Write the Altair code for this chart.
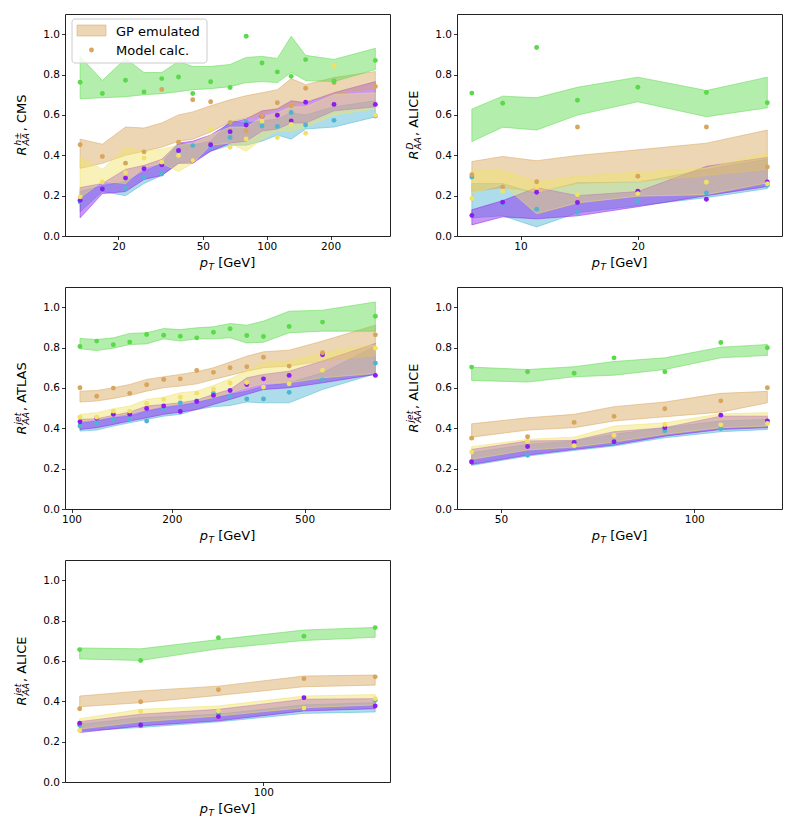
import altair as alt
import pandas as pd

MODELS = ["green", "tan", "yellow", "purple", "cyan"]
COLORS = ["#5ad94a", "#d7a55c", "#f0e266", "#8b1df0", "#4db5d3"]
DRAW_ORDER = ["cyan", "purple", "tan", "yellow", "green"]

# ---------------- CMS charged hadrons ----------------
cms_pt = [13.2, 16.8, 21.6, 26.4, 32.0, 38.4, 44.8, 54.4, 67.2, 80.0, 95.0, 112.2, 130.4, 152.5, 207.5, 325.0]
cms_val = {
    "green":  [0.762, 0.706, 0.772, 0.714, 0.780, 0.788, 0.706, 0.764, 0.736, 0.990, 0.857, 0.813, 0.791, 0.874, 0.768, 0.870],
    "tan":    [0.452, 0.394, 0.361, 0.417, 0.726, 0.465, 0.675, 0.665, 0.562, 0.521, 0.595, 0.660, 0.645, 0.732, 0.760, 0.741],
    "yellow": [0.194, 0.268, 0.314, 0.386, 0.366, 0.399, 0.374, 0.530, 0.440, 0.481, 0.570, 0.488, 0.553, 0.509, 0.841, 0.598],
    "purple": [0.177, 0.233, 0.287, 0.333, 0.353, 0.424, 0.373, 0.452, 0.517, 0.550, 0.593, 0.598, 0.570, 0.663, 0.652, 0.652],
    "cyan":   [0.169, 0.233, 0.236, 0.291, 0.307, 0.420, 0.448, 0.443, 0.488, 0.565, 0.545, 0.543, 0.612, 0.550, 0.573, 0.594],
}
cms_hi = {
    "green":  [0.89, 0.77, 0.88, 0.81, 0.81, 0.865, 0.84, 0.84, 0.85, 0.885, 0.89, 0.88, 0.99, 0.895, 0.875, 0.93],
    "tan":    [0.48, 0.455, 0.54, 0.535, 0.56, 0.60, 0.615, 0.645, 0.675, 0.695, 0.71, 0.725, 0.78, 0.75, 0.785, 0.815],
    "yellow": [0.39, 0.33, 0.44, 0.42, 0.43, 0.45, 0.46, 0.50, 0.54, 0.54, 0.59, 0.61, 0.64, 0.64, 0.70, 0.71],
    "purple": [0.24, 0.26, 0.33, 0.35, 0.38, 0.46, 0.47, 0.50, 0.56, 0.58, 0.62, 0.63, 0.67, 0.66, 0.71, 0.765],
    "cyan":   [0.22, 0.25, 0.27, 0.32, 0.36, 0.46, 0.45, 0.47, 0.57, 0.56, 0.57, 0.58, 0.61, 0.60, 0.64, 0.67],
}
cms_lo = {
    "green":  [0.68, 0.685, 0.69, 0.70, 0.705, 0.715, 0.725, 0.73, 0.74, 0.76, 0.765, 0.76, 0.81, 0.77, 0.765, 0.825],
    "tan":    [0.335, 0.36, 0.40, 0.42, 0.44, 0.47, 0.48, 0.515, 0.565, 0.585, 0.60, 0.63, 0.645, 0.665, 0.705, 0.73],
    "yellow": [0.19, 0.27, 0.26, 0.34, 0.36, 0.32, 0.36, 0.45, 0.46, 0.42, 0.48, 0.52, 0.52, 0.54, 0.60, 0.63],
    "purple": [0.09, 0.21, 0.22, 0.28, 0.30, 0.36, 0.36, 0.42, 0.46, 0.47, 0.52, 0.53, 0.56, 0.56, 0.62, 0.64],
    "cyan":   [0.12, 0.22, 0.20, 0.26, 0.30, 0.36, 0.37, 0.42, 0.45, 0.45, 0.47, 0.50, 0.48, 0.53, 0.54, 0.59],
}

# ---------------- ALICE D mesons ----------------
alid_pt = [7.5, 9.0, 11.0, 14.0, 20.0, 30.0, 43.0]
alid_val = {
    "green":  [0.708, 0.658, 0.934, 0.673, 0.737, 0.711, 0.660],
    "tan":    [0.304, 0.243, 0.269, 0.540, 0.296, 0.540, 0.342],
    "yellow": [0.186, 0.222, 0.243, 0.205, 0.210, 0.266, 0.259],
    "purple": [0.102, 0.167, 0.217, 0.166, 0.222, 0.182, 0.268],
    "cyan":   [0.292, 0.158, 0.133, 0.117, 0.174, 0.213, 0.251],
}
alid_hi = {
    "green":  [0.629, 0.693, 0.685, 0.737, 0.787, 0.721, 0.787],
    "tan":    [0.369, 0.394, 0.373, 0.399, 0.427, 0.460, 0.525],
    "yellow": [0.323, 0.325, 0.271, 0.296, 0.317, 0.337, 0.410],
    "purple": [0.130, 0.175, 0.240, 0.200, 0.220, 0.345, 0.390],
    "cyan":   [0.260, 0.260, 0.210, 0.265, 0.265, 0.330, 0.380],
}
alid_lo = {
    "green":  [0.468, 0.539, 0.525, 0.599, 0.665, 0.591, 0.635],
    "tan":    [0.220, 0.240, 0.220, 0.260, 0.270, 0.300, 0.330],
    "yellow": [0.213, 0.255, 0.110, 0.164, 0.197, 0.205, 0.263],
    "purple": [0.055, 0.095, 0.085, 0.100, 0.145, 0.200, 0.245],
    "cyan":   [0.090, 0.100, 0.045, 0.115, 0.150, 0.190, 0.235],
}

# ---------------- ATLAS jets ----------------
atl_pt = [106, 119, 133.5, 149.5, 168, 189, 212, 237.5, 266.5, 299, 335.5, 376.5, 449.5, 566, 815.5]
atl_val = {
    "green":  [0.805, 0.832, 0.814, 0.827, 0.865, 0.861, 0.856, 0.848, 0.876, 0.893, 0.860, 0.855, 0.904, 0.926, 0.955],
    "tan":    [0.601, 0.559, 0.599, 0.573, 0.616, 0.642, 0.645, 0.686, 0.677, 0.700, 0.705, 0.752, 0.708, 0.774, 0.863],
    "yellow": [0.455, 0.455, 0.485, 0.485, 0.523, 0.543, 0.554, 0.574, 0.594, 0.624, 0.627, 0.604, 0.620, 0.688, 0.797],
    "purple": [0.432, 0.450, 0.469, 0.470, 0.498, 0.510, 0.483, 0.533, 0.563, 0.587, 0.617, 0.645, 0.662, 0.764, 0.662],
    "cyan":   [0.411, 0.426, 0.441, 0.444, 0.436, 0.498, 0.526, 0.536, 0.573, 0.558, 0.545, 0.545, 0.578, 0.640, 0.723],
}
atl_hi = {
    "green":  [0.845, 0.840, 0.848, 0.870, 0.873, 0.894, 0.889, 0.898, 0.903, 0.919, 0.911, 0.931, 0.980, 0.985, 1.026],
    "tan":    [0.584, 0.587, 0.601, 0.617, 0.642, 0.655, 0.667, 0.680, 0.700, 0.728, 0.757, 0.779, 0.787, 0.832, 0.911],
    "yellow": [0.469, 0.477, 0.497, 0.510, 0.543, 0.554, 0.576, 0.584, 0.612, 0.645, 0.683, 0.724, 0.733, 0.774, 0.815],
    "purple": [0.444, 0.447, 0.464, 0.480, 0.510, 0.518, 0.526, 0.540, 0.568, 0.592, 0.650, 0.667, 0.683, 0.733, 0.820],
    "cyan":   [0.424, 0.436, 0.452, 0.460, 0.485, 0.502, 0.513, 0.526, 0.551, 0.568, 0.584, 0.609, 0.625, 0.675, 0.807],
}
atl_lo = {
    "green":  [0.794, 0.785, 0.797, 0.815, 0.818, 0.843, 0.832, 0.843, 0.843, 0.848, 0.823, 0.826, 0.873, 0.881, 0.881],
    "tan":    [0.530, 0.535, 0.548, 0.563, 0.584, 0.601, 0.609, 0.620, 0.642, 0.662, 0.683, 0.700, 0.708, 0.733, 0.760],
    "yellow": [0.436, 0.444, 0.460, 0.472, 0.493, 0.510, 0.522, 0.535, 0.551, 0.576, 0.601, 0.622, 0.625, 0.650, 0.672],
    "purple": [0.394, 0.403, 0.419, 0.436, 0.452, 0.469, 0.480, 0.493, 0.518, 0.543, 0.568, 0.592, 0.601, 0.625, 0.667],
    "cyan":   [0.386, 0.391, 0.411, 0.427, 0.444, 0.460, 0.469, 0.493, 0.507, 0.513, 0.530, 0.526, 0.526, 0.592, 0.670],
}

# ---------------- ALICE jets (first) ----------------
alj1_pt = [45, 55, 65, 75, 90, 110, 130]
alj1_val = {
    "green":  [0.703, 0.680, 0.673, 0.749, 0.680, 0.825, 0.799],
    "tan":    [0.351, 0.358, 0.429, 0.459, 0.497, 0.536, 0.601],
    "yellow": [0.282, 0.335, 0.314, 0.365, 0.419, 0.417, 0.424],
    "purple": [0.233, 0.310, 0.330, 0.333, 0.403, 0.465, 0.436],
    "cyan":   [0.235, 0.266, 0.328, 0.327, 0.388, 0.398, 0.434],
}
alj1_hi = {
    "green":  [0.703, 0.691, 0.705, 0.731, 0.749, 0.802, 0.815],
    "tan":    [0.422, 0.452, 0.469, 0.507, 0.530, 0.573, 0.583],
    "yellow": [0.309, 0.345, 0.356, 0.411, 0.427, 0.472, 0.477],
    "purple": [0.295, 0.337, 0.340, 0.383, 0.403, 0.460, 0.460],
    "cyan":   [0.279, 0.320, 0.337, 0.370, 0.403, 0.436, 0.444],
}
alj1_lo = {
    "green":  [0.637, 0.629, 0.655, 0.663, 0.691, 0.749, 0.761],
    "tan":    [0.356, 0.391, 0.403, 0.436, 0.457, 0.480, 0.526],
    "yellow": [0.246, 0.292, 0.307, 0.332, 0.370, 0.403, 0.411],
    "purple": [0.221, 0.267, 0.295, 0.317, 0.361, 0.394, 0.403],
    "cyan":   [0.216, 0.262, 0.290, 0.312, 0.353, 0.383, 0.394],
}

# ---------------- ALICE jets (second) ----------------
alj2_pt = [65, 75, 90, 110, 130]
alj2_val = {
    "green":  [0.656, 0.602, 0.715, 0.722, 0.765],
    "tan":    [0.363, 0.398, 0.457, 0.512, 0.521],
    "yellow": [0.255, 0.349, 0.352, 0.367, 0.413],
    "purple": [0.291, 0.283, 0.324, 0.418, 0.377],
    "cyan":   [0.281, 0.278, 0.340, 0.370, 0.405],
}
alj2_hi = {
    "green":  [0.664, 0.660, 0.706, 0.753, 0.766],
    "tan":    [0.426, 0.451, 0.475, 0.525, 0.530],
    "yellow": [0.314, 0.360, 0.377, 0.426, 0.433],
    "purple": [0.299, 0.336, 0.360, 0.410, 0.413],
    "cyan":   [0.286, 0.319, 0.336, 0.382, 0.393],
}
alj2_lo = {
    "green":  [0.610, 0.602, 0.660, 0.701, 0.717],
    "tan":    [0.373, 0.393, 0.429, 0.472, 0.480],
    "yellow": [0.262, 0.298, 0.327, 0.368, 0.382],
    "purple": [0.245, 0.278, 0.303, 0.352, 0.363],
    "cyan":   [0.253, 0.270, 0.298, 0.340, 0.347],
}

# ---------------- layout / style ----------------
W, H = 325, 222
FONT = "DejaVu Sans"
F_TITLE, F_SUB, F_TICK = 13, 9, 10.5
EM = {"R": .695, "A": .684, "h": .634, "±": .838, "D": .770, "j": .278, "e": .615, "t": .392,
      ",": .318, " ": .318, "C": .698, "M": .863, "S": .635, "L": .557, "I": .295,
      "E": .632, "T": .611, "p": .635, "[": .390, "G": .775, "V": .684, "]": .390}
CMAP = dict(zip(MODELS, COLORS))


def tw(s, size):
    return sum(EM.get(ch, 0.6) for ch in s) * size


ONE = pd.DataFrame({"k": [0]})


def txt(s, x, y, size, italic=False, angle=0, color="black"):
    kw = dict(text=s, fontSize=size, font=FONT, align="left", baseline="alphabetic", color=color,
              fontStyle="italic" if italic else "normal")
    if angle:
        kw["angle"] = angle
    return alt.Chart(ONE).mark_text(**kw).encode(x=alt.value(x), y=alt.value(y))


def build_df(pt, val, lo, hi):
    rows = []
    for m in DRAW_ORDER:
        for i, p in enumerate(pt):
            rows.append(dict(pt=p, model=m, val=val[m][i], lo=lo[m][i], hi=hi[m][i]))
    return pd.DataFrame(rows)


def panel(pt, val, lo, hi, dom, ticks, sup, rest, legend=False):
    df = build_df(pt, val, lo, hi)
    xaxis = alt.Axis(values=ticks, format="d", title=None, grid=False, domain=False,
                     tickSize=3.5, tickColor="black", tickWidth=0.8, labelFontSize=F_TICK,
                     labelColor="black", labelFont=FONT, labelPadding=2, labelFlush=False)
    yaxis = alt.Axis(values=[0, 0.2, 0.4, 0.6, 0.8, 1.0], format=".1f", title=None, grid=False,
                     domain=False, tickSize=3.5, tickColor="black", tickWidth=0.8,
                     labelFontSize=F_TICK, labelColor="black", labelFont=FONT, labelPadding=2)
    xs = alt.Scale(type="log", domain=dom, nice=False)
    ys = alt.Scale(domain=[0, 1.1], nice=False)
    X = alt.X("pt:Q", scale=xs, axis=xaxis)
    layers = []
    for m in DRAW_ORDER:
        c = CMAP[m]
        layers.append(
            alt.Chart(df[df.model == m]).mark_area(
                color=c, fillOpacity=0.46, stroke=c, strokeOpacity=0.5, strokeWidth=1
            ).encode(x=X, y=alt.Y("lo:Q", scale=ys, axis=yaxis), y2="hi:Q")
        )
    layers.append(
        alt.Chart(df).mark_circle(size=24, opacity=1).encode(
            x=X, y=alt.Y("val:Q", scale=ys, axis=yaxis),
            color=alt.Color("model:N", scale=alt.Scale(domain=MODELS, range=COLORS), legend=None))
    )
    # y title: R_{AA}^{sup}, rest  (rotated)
    xb = -39
    wR = tw("R", F_TITLE)
    wmid = max(tw("AA", F_SUB), tw(sup, F_SUB))
    wrest = tw(rest, F_TITLE)
    L = wR + 1 + wmid + 1 + wrest
    y0 = H / 2 + L / 2
    layers.append(txt("R", xb, y0, F_TITLE, italic=True, angle=270))
    layers.append(txt("AA", xb + 3, y0 - wR - 1, F_SUB, italic=True, angle=270))
    layers.append(txt(sup, xb - 5.5, y0 - wR - 1, F_SUB, italic=True, angle=270))
    layers.append(txt(rest, xb, y0 - wR - 2 - wmid, F_TITLE, angle=270))
    # x title: p_T [GeV]
    gev = "[GeV]"
    wp = tw("p", F_TITLE)
    wT = tw("T", F_SUB)
    wsp = tw(" ", F_TITLE)
    wg = tw(gev, F_TITLE)
    Lx = wp + 0.5 + wT + wsp + wg
    x0 = W / 2 - Lx / 2
    yb = H + 31
    layers.append(txt("p", x0, yb, F_TITLE, italic=True))
    layers.append(txt("T", x0 + wp + 0.5, yb + 3, F_SUB, italic=True))
    layers.append(txt(gev, x0 + wp + 0.5 + wT + wsp, yb, F_TITLE))
    if legend:
        tan = CMAP["tan"]
        layers.append(alt.Chart(ONE).mark_rect(
            fill="white", fillOpacity=0.8, stroke="#cccccc", strokeWidth=1, cornerRadius=3
        ).encode(x=alt.value(7), x2=alt.value(142), y=alt.value(5), y2=alt.value(49)))
        layers.append(alt.Chart(ONE).mark_rect(
            fill=tan, fillOpacity=0.46, stroke=tan, strokeOpacity=0.5, strokeWidth=1
        ).encode(x=alt.value(12), x2=alt.value(41), y=alt.value(11), y2=alt.value(22)))
        layers.append(alt.Chart(ONE).mark_circle(size=24, color=tan, opacity=1).encode(
            x=alt.value(26.5), y=alt.value(36)))
        layers.append(txt("GP emulated", 51, 21.5, F_TITLE))
        layers.append(txt("Model calc.", 51, 40.5, F_TITLE))
    return alt.layer(*layers).properties(
        width=W, height=H, view=alt.ViewBackground(stroke="#222222", strokeWidth=1)
    )


p1 = panel(cms_pt, cms_val, cms_lo, cms_hi, [11.2, 381], [20, 50, 100, 200], "h±", ", CMS", legend=True)
p2 = panel(alid_pt, alid_val, alid_lo, alid_hi, [6.87, 46.9], [10, 20], "D", ", ALICE")
p3 = panel(atl_pt, atl_val, atl_lo, atl_hi, [95.6, 902], [100, 200, 500], "jet", ", ATLAS")
p4 = panel(alj1_pt, alj1_val, alj1_lo, alj1_hi, [42.7, 137.0], [50, 100], "jet", ", ALICE")
p5 = panel(alj2_pt, alj2_val, alj2_lo, alj2_hi, [62.8, 134.6], [100], "jet", ", ALICE")

row1 = alt.hconcat(p1, p2, spacing=14)
row2 = alt.hconcat(p3, p4, spacing=14)
chart = alt.vconcat(row1, row2, p5, spacing=13).properties(
    padding={"left": 5, "top": 5, "right": 5, "bottom": 5}
).configure_view(stroke="#222222", strokeWidth=1).configure(background="white")

chart.save("out.html", embed_options={"renderer": "svg", "actions": False})
